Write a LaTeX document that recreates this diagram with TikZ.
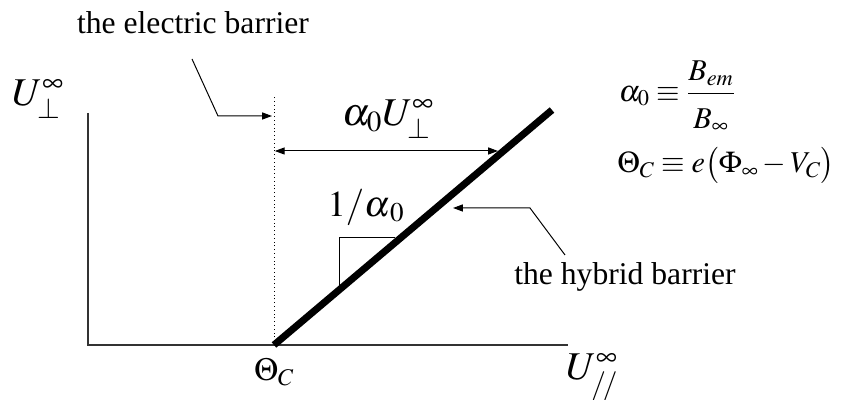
\documentclass[tikz,border=0pt]{standalone}
\usepackage{mathptmx}
\usepackage{amsmath, amssymb}
\usepackage[no-math]{fontspec}
\setmainfont{Liberation Serif}
\usetikzlibrary{calc}
\usetikzlibrary{arrows.meta}

\begin{document}
\begin{tikzpicture}[
        lbl/.style={draw=none, inner sep=1pt, font=\fontsize{22.5}{27}\selectfont},
        mth/.style={draw=none, inner sep=1pt, font=\fontsize{23}{28}\selectfont},
        big/.style={draw=none, inner sep=1pt, font=\fontsize{28}{34}\selectfont},
        pt/.style={-{Triangle[length=7pt, width=5pt]}, line width=0.7pt}
    ]
        \useasboundingbox (-2.2,-1.375) rectangle (18.925,8.625);
        % 軸
        \coordinate (O) at (0,0);
        \coordinate (ytop) at (0,5.8);
        \coordinate (xend) at (12.0,0);
        \draw[line width=0.8pt, black!80] (ytop) -- (O) -- (xend);
        % 軸のラベル
        \node[big] (uperp) at (-1.25,6.15) {$U_{\perp}^{\infty}$};
        \node[big] (upar) at (12.6,-0.8) {$U_{/\!/}^{\infty}$};
        % electric barrier（点線）
        \coordinate (thetaC) at (4.65,0);
        \coordinate (etop) at (4.65,6.25);
        \draw[dotted, line width=0.7pt] (thetaC) -- (etop);
        \node[mth, anchor=north] (thetaClbl) at ($(thetaC)+(0,-0.3)$) {$\Theta_C$};
        % hybrid barrier（太線）
        \coordinate (htop) at (11.6,5.875);
        \draw[line width=5pt] (thetaC) -- (htop);
        % 幅 alpha_0 U
        \coordinate (wl) at (4.67,4.85);
        \coordinate (wr) at (10.25,4.85);
        \draw[{Triangle[length=7pt, width=5pt]}-{Triangle[length=7pt, width=5pt]}, line width=0.7pt] (wl) -- (wr);
        \node[big] (width) at (7.5,5.65) {$\alpha_0 U_{\perp}^{\infty}$};
        % 傾き
        \coordinate (s1) at (6.275,1.5);
        \coordinate (s2) at (6.275,2.7);
        \coordinate (s3) at (7.675,2.7);
        \draw[line width=0.7pt] (s1) -- (s2) -- (s3);
        \node[draw=none, inner sep=1pt, font=\fontsize{26}{31}\selectfont] (slope) at (6.95,3.45) {$1/\alpha_{\,0}$};
        % electric barrier の説明
        \node[lbl] (etxt) at (2.625,8.05) {the electric barrier};
        \coordinate (e1) at (2.6,7.15);
        \coordinate (e2) at (3.25,5.725);
        \coordinate (e3) at (4.6,5.725);
        \draw[pt] (e1) -- (e2) -- (e3);
        % hybrid barrier の説明
        \node[lbl] (htxt) at (13.425,1.7) {the hybrid barrier};
        \coordinate (h1) at (11.925,2.25);
        \coordinate (h2) at (11.05,3.425);
        \coordinate (h3) at (9.125,3.425);
        \draw[pt] (h1) -- (h2) -- (h3);
        % 定義式
        \node[mth, font=\fontsize{21.5}{26}\selectfont] (defa) at (14.725,6.2) {$\alpha_0 \equiv \dfrac{B_{em}}{\rule{0pt}{1.0em}B_{\infty}}$};
        \node[mth, font=\fontsize{21.5}{26}\selectfont] (deft) at (15.95,4.5) {$\Theta_C \equiv e\bigl(\Phi_{\infty} - V_C\bigr)$};
    \end{tikzpicture}
\end{document}
